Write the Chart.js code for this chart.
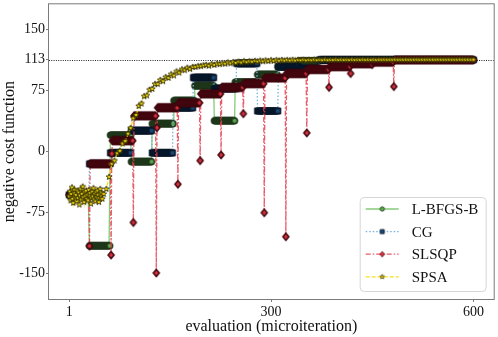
<!DOCTYPE html>
<html>
<head>
<meta charset="utf-8">
<script src="https://cdn.jsdelivr.net/npm/chart.js@4.4.1/dist/chart.umd.min.js"></script>
<style>
  html, body { margin: 0; padding: 0; background: #fff; }
</style>
</head>
<body>
<canvas id="costChart" width="498" height="337"></canvas>
<script>
const xTicks = [1, 300, 600];
const yTicks = [-150, -75, 0, 75, 113, 150];
const optimum = 113;

// plateau levels and the number of evaluations spent on each one
const lbfgsLevels = [-53, -115.6, 20.3, -12.3, 34.4, 62.7, 81, 38, 85.5, 94.7, 104.5, 111.5, 112.7];
const lbfgsCounts = [30, 31, 31, 31, 32, 31, 29, 31, 33, 30, 31, 31, 229];

const cgLevels = [-53, -15, -1.5, 25.8, -1.5, 54, 91, 77.5, 108.5, 50, 104.5, 102, 112.8];
const cgCounts = [30, 31, 31, 31, 31, 30, 31, 33, 31, 31, 30, 31, 229];

const slsqpLevels = [-53, -116, -15, -127, -2.5, 13.5, -87, 44, -149, 29.5, 54, -40, 60, -11, 71, -4,
  79, 46.7, 83.6, -75, 90.5, -104.5, 96, 23, 101, 79, 104.5, 96, 108, 107, 110, 80, 112.6];
const slsqpCounts = [30, 1, 31, 1, 1, 31, 1, 33, 1, 1, 30, 1, 32, 1, 30, 1,
  32, 1, 30, 1, 31, 1, 30, 1, 32, 1, 31, 1, 31, 1, 31, 1, 118];

// SPSA: calibration evaluations 1..50, then every 4th evaluation from 52
const spsaCalibration = [
  -55, -49, -60, -52, -44, -58, -63, -51, -47, -56,
  -53, -61, -48, -57, -50, -65, -54, -46, -59, -52,
  -43, -56, -62, -50, -55, -48, -58, -53, -60, -47,
  -54, -51, -64, -57, -49, -55, -45, -59, -52, -61,
  -50, -56, -48, -53, -62, -57, -46, -54, -51, -58
];
const spsaTrace = [
  -52, -46, -31, -15, -11, -2, 1, 10, 13, 22,
  29, 41, 45, 56, 59, 68, 69, 76, 77, 83,
  83, 88, 86.5, 91.5, 90.5, 95, 93.5, 98.5, 97, 101,
  100, 103, 101.5, 104, 104, 105, 105, 106, 106.5, 105.5,
  107.5, 106.5, 108, 107.5, 108.5, 108, 109.5, 108.5, 110, 109,
  110.5, 109.5, 111, 110, 111, 110.5, 111.5, 110.8, 111.8, 111,
  112, 111.2, 112.3, 111.5, 112.4, 111.8, 112.6, 111.9, 112.6, 112,
  112.8, 112.1, 112.7, 112.3, 112.9, 112.2, 112.8, 112.4, 113, 112.4,
  112.9, 112.5, 113, 112.5, 112.9, 112.6, 113.1, 112.6, 113, 112.7,
  113, 112.7, 113.1, 112.7, 113, 112.8, 113.1, 112.8, 113, 112.8,
  113.1, 112.8, 113, 112.9, 113.1, 112.9, 113, 112.9, 113.1, 112.9,
  113, 112.9, 113.1, 112.9, 113, 113, 113.1, 112.9, 113, 113,
  113.1, 113, 113, 113, 113.1, 113, 113, 113, 113.1, 113,
  113, 113, 113.1, 113, 113, 113, 113, 113
];

function runsToPoints(levels, counts) {
  const pts = [];
  let e = 1;
  levels.forEach((v, i) => {
    for (let k = 0; k < counts[i]; k++) pts.push({ x: e++, y: v });
  });
  return pts;
}

function spsaPoints() {
  const pts = spsaCalibration.map((v, i) => ({ x: i + 1, y: v }));
  spsaTrace.forEach((v, i) => pts.push({ x: 52 + 4 * i, y: v }));
  return pts;
}

function makeMarker(kind, fill, edge, s, lw) {
  const c = document.createElement('canvas');
  c.width = 12; c.height = 12;
  const g = c.getContext('2d');
  g.translate(6, 6);
  g.scale(s, s);
  g.beginPath();
  if (kind === 'circle') {
    g.arc(0, 0, 2.8, 0, Math.PI * 2);
  } else if (kind === 'square') {
    g.rect(-2.6, -2.6, 5.2, 5.2);
  } else if (kind === 'diamond') {
    g.moveTo(0, -3.5); g.lineTo(3, 0); g.lineTo(0, 3.5); g.lineTo(-3, 0); g.closePath();
  } else {
    for (let k = 0; k < 10; k++) {
      const r = k % 2 ? 1.3 : 3.1;
      const a = -Math.PI / 2 + k * Math.PI / 5;
      g.lineTo(r * Math.cos(a), r * Math.sin(a));
    }
    g.closePath();
  }
  g.fillStyle = fill;
  g.fill();
  g.lineWidth = lw / s;
  g.strokeStyle = edge;
  g.stroke();
  return c;
}

const styles = [
  { label: 'L-BFGS-B', kind: 'circle', fill: '#5aa84d', edge: '#1f361b', line: 'rgba(120,195,105,0.9)', dash: [], lw: 1.5 },
  { label: 'CG', kind: 'square', fill: '#1a4a78', edge: '#08172a', line: '#74b4de', dash: [1.5, 2], lw: 1.5 },
  { label: 'SLSQP', kind: 'diamond', fill: '#d9303c', edge: '#420810', line: 'rgba(228,62,78,0.85)', dash: [5, 2, 1.5, 2], lw: 1.5 },
  { label: 'SPSA', kind: 'star', fill: '#efd80c', edge: '#3a3400', line: '#f5e11c', dash: [4, 2], lw: 0.9 }
];
const seriesData = [
  runsToPoints(lbfgsLevels, lbfgsCounts),
  runsToPoints(cgLevels, cgCounts),
  runsToPoints(slsqpLevels, slsqpCounts),
  spsaPoints()
];

const datasets = styles.map((s, i) => ({
  label: s.label,
  data: seriesData[i],
  borderColor: s.line,
  borderWidth: 1.3,
  borderDash: s.dash,
  pointStyle: makeMarker(s.kind, s.fill, s.edge, 1, s.lw),
  legendMarker: makeMarker(s.kind, s.fill, s.edge, 0.8, 0.7),
  pointRadius: 3,
  pointHoverRadius: 3,
  tension: 0,
  fill: false,
  order: 4 - i
}));

const optimumLine = {
  id: 'optimumLine',
  beforeDatasetsDraw(chart) {
    const { ctx, chartArea, scales } = chart;
    const y = Math.round(scales.y.getPixelForValue(optimum)) + 0.5;
    ctx.save();
    ctx.strokeStyle = '#222';
    ctx.lineWidth = 1;
    ctx.setLineDash([1, 1.3]);
    ctx.beginPath();
    ctx.moveTo(chartArea.left, y);
    ctx.lineTo(chartArea.right, y);
    ctx.stroke();
    ctx.restore();
  }
};

const frameAndLegend = {
  id: 'frameAndLegend',
  afterDatasetsDraw(chart) {
    const { ctx, chartArea } = chart;
    ctx.save();
    ctx.strokeStyle = '#7a7a7a';
    ctx.lineWidth = 1;
    ctx.strokeRect(chartArea.left - 0.5, chartArea.top - 0.5,
      chartArea.right - chartArea.left + 1, chartArea.bottom - chartArea.top + 1);

    const w = 126, h = 94;
    const x0 = chartArea.right - 8 - w, y0 = chartArea.bottom - 8 - h;
    ctx.beginPath();
    ctx.roundRect(x0 + 0.5, y0 + 0.5, w, h, 4);
    ctx.fillStyle = 'rgba(255,255,255,0.85)';
    ctx.fill();
    ctx.strokeStyle = '#d6d6d6';
    ctx.stroke();
    chart.data.datasets.forEach((ds, i) => {
      const y = y0 + 12 + i * 22.6;
      ctx.beginPath();
      ctx.setLineDash(ds.borderDash);
      ctx.strokeStyle = ds.borderColor;
      ctx.lineWidth = 1.3;
      ctx.moveTo(x0 + 6, y);
      ctx.lineTo(x0 + 39, y);
      ctx.stroke();
      ctx.setLineDash([]);
      ctx.drawImage(ds.legendMarker, x0 + 22.5 - 6, y - 6);
      ctx.fillStyle = '#111';
      ctx.font = '15px "Liberation Serif"';
      ctx.textBaseline = 'middle';
      ctx.textAlign = 'left';
      ctx.fillText(ds.label, x0 + 52, y + 1);
    });
    ctx.restore();
  }
};

Chart.defaults.font.family = '"Liberation Serif", serif';
Chart.defaults.color = '#111';

new Chart(document.getElementById('costChart').getContext('2d'), {
  type: 'line',
  data: { datasets },
  options: {
    responsive: false,
    animation: false,
    events: [],
    layout: { padding: { left: 0, right: 4, top: 4, bottom: 0 } },
    plugins: { legend: { display: false }, tooltip: { enabled: false } },
    scales: {
      x: {
        type: 'linear',
        min: -29,
        max: 630,
        afterFit: (scale) => {
          scale.height = 38;
          scale.paddingLeft = 0;
          scale.paddingRight = 0;
        },
        afterBuildTicks: (scale) => { scale.ticks = xTicks.map(v => ({ value: v })); },
        ticks: { autoSkip: false, maxRotation: 0, padding: 2, font: { size: 14 }, callback: v => String(v) },
        grid: { drawOnChartArea: false, tickLength: 3, color: '#7a7a7a' },
        border: { display: false },
        title: { display: true, text: 'evaluation (microiteration)', font: { size: 16 }, padding: { top: 0, bottom: 1 } }
      },
      y: {
        type: 'linear',
        min: -181,
        max: 181,
        afterFit: (scale) => {
          scale.width = 49;
          scale.paddingTop = 0;
          scale.paddingBottom = 0;
        },
        afterBuildTicks: (scale) => { scale.ticks = yTicks.map(v => ({ value: v })); },
        ticks: { autoSkip: false, padding: 1, font: { size: 14 }, callback: v => String(v) },
        grid: { drawOnChartArea: false, tickLength: 3, color: '#7a7a7a' },
        border: { display: false },
        title: { display: true, text: 'negative cost function', font: { size: 16 }, padding: { top: 0, bottom: 0 } }
      }
    }
  },
  plugins: [optimumLine, frameAndLegend]
});
</script>
</body>
</html>
